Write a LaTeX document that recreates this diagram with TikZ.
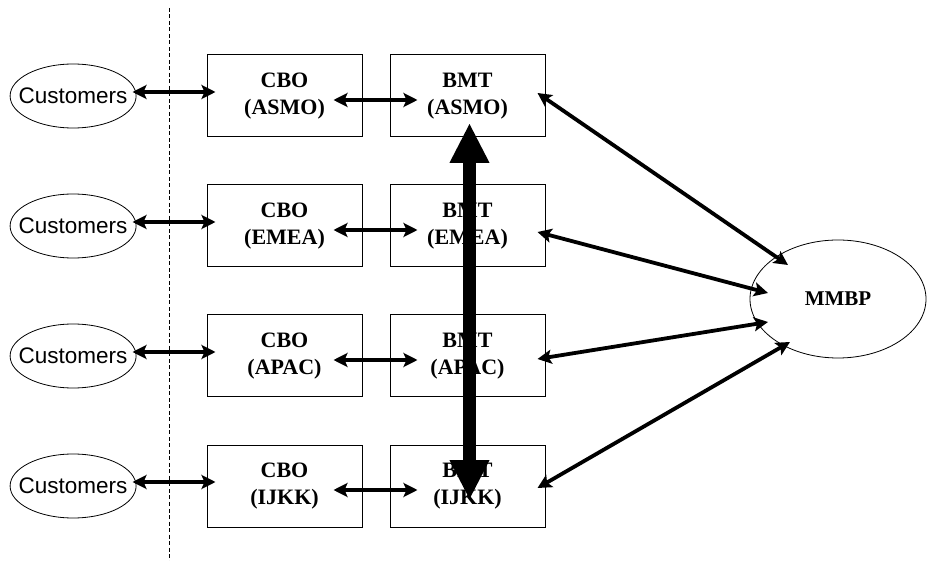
\documentclass[tikz,border=0pt]{standalone}
\usepackage{fontspec}
\setmainfont{Liberation Serif}
\newfontfamily\custfont{Liberation Sans}
\usepackage{tikz}
\usetikzlibrary{positioning, arrows.meta, shapes.geometric}
\tikzset{
    box_style/.style={
        rectangle,            % 矩形框
        draw=black,           % 边框颜色
        line width=1pt,       % 细边框
        minimum width=155pt,  % 框宽
        minimum height=82pt,  % 框高
        inner sep=0pt,
        align=center,         % 两行文字居中
        font=\bfseries\fontsize{22}{27}\selectfont
    },
    cust_style/.style={
        ellipse,              % 椭圆
        draw=black,
        line width=0.8pt,
        minimum width=126pt,
        minimum height=64pt,
        inner sep=0pt,
        font=\custfont\fontsize{22.5}{27}\selectfont
    },
    hub_style/.style={
        ellipse,              % 右侧大椭圆
        draw=black,
        line width=0.8pt,
        minimum width=176pt,
        minimum height=118pt,
        inner sep=0pt,
        font=\bfseries\fontsize{21}{25}\selectfont
    },
    link_style/.style={
        {Stealth[length=14pt,width=14pt,inset=3pt]}-{Stealth[length=14pt,width=14pt,inset=3pt]}, % 双向箭头
        line width=3.8pt
    },
    big_arrow_style/.style={
        {Triangle[length=40pt,width=37pt]}-{Triangle[length=40pt,width=37pt]}, % 粗双向箭头
        line width=13pt
    },
    divider_style/.style={
        dash pattern=on 4pt off 2.5pt, % 虚线
        line width=1pt
    }
}

\begin{document}
\begin{tikzpicture}[x=1pt, y=-1pt, node distance=47pt and 27pt]
    \useasboundingbox (0,0) rectangle (927,561);

    % 1. 虚线分隔
    \coordinate (div_top) at (169,8);
    \coordinate (div_bot) at (169,561);
    \draw[divider_style] (div_top) -- (div_bot);

    % 2. CBO 与 BMT 框 (四行)
    \node[box_style] (cbo1) at (284.5,96) {CBO\\(ASMO)};
    \node[box_style, right=of cbo1] (bmt1) {BMT\\(ASMO)};
    \node[box_style, below=of cbo1] (cbo2) {CBO\\(EMEA)};
    \node[box_style, right=of cbo2] (bmt2) {BMT\\(EMEA)};
    \node[box_style, below=of cbo2] (cbo3) {CBO\\(APAC)};
    \node[box_style, right=of cbo3] (bmt3) {BMT\\(APAC)};
    \node[box_style, below=of cbo3] (cbo4) {CBO\\(IJKK)};
    \node[box_style, right=of cbo4] (bmt4) {BMT\\(IJKK)};

    % 3. 左侧客户椭圆
    \node[cust_style, left=70pt of cbo1] (cust1) {\makebox[0pt]{Customers}};
    \node[cust_style, left=70pt of cbo2] (cust2) {\makebox[0pt]{Customers}};
    \node[cust_style, left=70pt of cbo3] (cust3) {\makebox[0pt]{Customers}};
    \node[cust_style, left=70pt of cbo4] (cust4) {\makebox[0pt]{Customers}};

    % 4. 右侧 MMBP
    \node[hub_style] (mmbp) at (838,299) {MMBP};

    % 5. 客户 <-> CBO
    \draw[link_style] ([xshift=-4pt,yshift=4pt]cust1.east) -- ([xshift=9pt,yshift=4pt]cbo1.west);
    \draw[link_style] ([xshift=-4pt,yshift=4pt]cust2.east) -- ([xshift=9pt,yshift=4pt]cbo2.west);
    \draw[link_style] ([xshift=-4pt,yshift=4pt]cust3.east) -- ([xshift=9pt,yshift=4pt]cbo3.west);
    \draw[link_style] ([xshift=-4pt,yshift=4pt]cust4.east) -- ([xshift=9pt,yshift=4pt]cbo4.west);

    % 6. CBO <-> BMT
    \draw[link_style] ([xshift=-29pt,yshift=-4pt]cbo1.east) -- ([xshift=28pt,yshift=-4pt]bmt1.west);
    \draw[link_style] ([xshift=-29pt,yshift=-4pt]cbo2.east) -- ([xshift=28pt,yshift=-4pt]bmt2.west);
    \draw[link_style] ([xshift=-29pt,yshift=-4pt]cbo3.east) -- ([xshift=28pt,yshift=-4pt]bmt3.west);
    \draw[link_style] ([xshift=-29pt,yshift=-4pt]cbo4.east) -- ([xshift=28pt,yshift=-4pt]bmt4.west);

    % 7. BMT <-> MMBP
    \draw[link_style] ([xshift=-8pt,yshift=3pt]bmt1.east) -- ([shift={(-50,-34)}]mmbp.center);
    \draw[link_style] ([xshift=-8pt,yshift=-6pt]bmt2.east) -- ([shift={(-70,-6)}]mmbp.center);
    \draw[link_style] ([xshift=-8pt,yshift=-3pt]bmt3.east) -- ([shift={(-70,23)}]mmbp.center);
    \draw[link_style] ([xshift=-8pt,yshift=-2pt]bmt4.east) -- ([shift={(-48,43)}]mmbp.center);

    % 8. BMT 之间的粗箭头
    \draw[big_arrow_style] ([xshift=2pt,yshift=-27pt]bmt1.center) -- ([xshift=2pt,yshift=-14pt]bmt4.center);
\end{tikzpicture}
\end{document}
